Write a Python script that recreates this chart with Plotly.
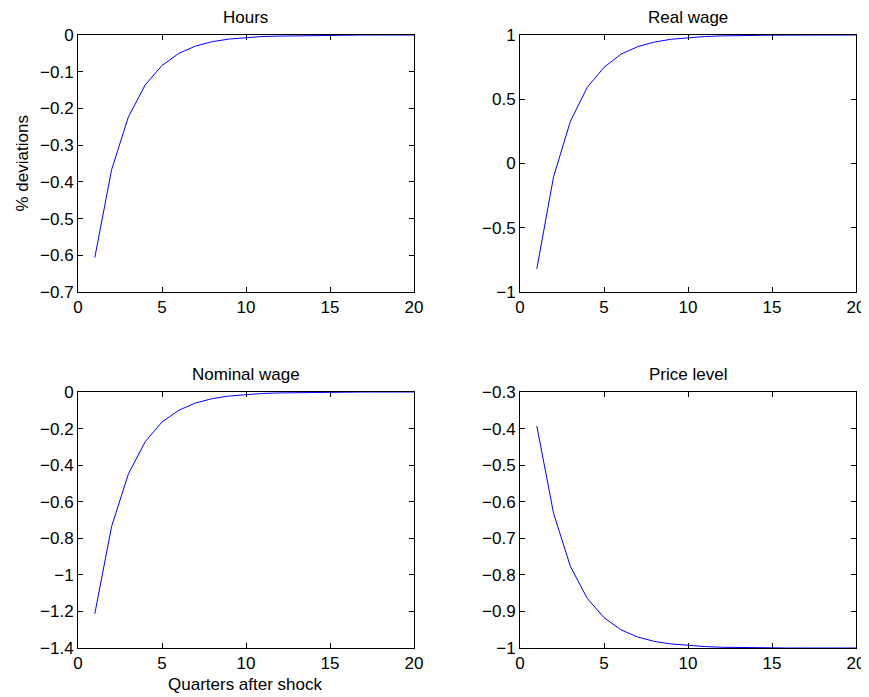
import plotly.graph_objects as go

quarters = list(range(1, 21))
hours = [-0.606, -0.367, -0.223, -0.136, -0.083, -0.050, -0.030, -0.018, -0.011, -0.007,
         -0.004, -0.003, -0.002, -0.001, -0.001, 0.0, 0.0, 0.0, 0.0, 0.0]
real_wage = [-0.820, -0.102, 0.328, 0.592, 0.748, 0.850, 0.909, 0.945, 0.967, 0.980,
             0.988, 0.993, 0.996, 0.998, 0.999, 0.999, 1.0, 1.0, 1.0, 1.0]
nominal_wage = [-1.213, -0.735, -0.448, -0.272, -0.164, -0.100, -0.060, -0.036, -0.022, -0.013,
                -0.008, -0.005, -0.003, -0.002, -0.001, -0.001, 0.0, 0.0, 0.0, 0.0]
price_level = [-0.393, -0.632, -0.777, -0.864, -0.917, -0.950, -0.970, -0.982, -0.989, -0.993,
               -0.996, -0.998, -0.999, -0.999, -1.0, -1.0, -1.0, -1.0, -1.0, -1.0]

titles = ["Hours", "Real wage", "Nominal wage", "Price level"]
x_ticks = [0, 5, 10, 15, 20]
x_ticktext = ["0", "5", "10", "15", "20"]
y_ticks = [
    [-0.7, -0.6, -0.5, -0.4, -0.3, -0.2, -0.1, 0],
    [-1, -0.5, 0, 0.5, 1],
    [-1.4, -1.2, -1, -0.8, -0.6, -0.4, -0.2, 0],
    [-1, -0.9, -0.8, -0.7, -0.6, -0.5, -0.4, -0.3],
]
y_ticktext = [
    ["\u22120.7", "\u22120.6", "\u22120.5", "\u22120.4", "\u22120.3", "\u22120.2", "\u22120.1", "0"],
    ["\u22121", "\u22120.5", "0", "0.5", "1"],
    ["\u22121.4", "\u22121.2", "\u22121", "\u22120.8", "\u22120.6", "\u22120.4", "\u22120.2", "0"],
    ["\u22121", "\u22120.9", "\u22120.8", "\u22120.7", "\u22120.6", "\u22120.5", "\u22120.4", "\u22120.3"],
]
series = [hours, real_wage, nominal_wage, price_level]

# page body has an 8px margin, so the figure is drawn 8px in from the top-left
OFF = 8
W, H = 869, 697 - OFF
FONT = "Liberation Sans, Arial, Helvetica, sans-serif"
FS = 17


def px(x):
    return (x - OFF) / W


def py(y):
    return 1 - (y - OFF) / H


# pixel boxes in window coordinates (left, right, top, bottom)
boxes = [(78, 414, 35, 292), (520, 856, 35, 292), (78, 414, 392, 648), (520, 856, 392, 648)]

fig = go.Figure()
layout = dict(
    width=W, height=H, margin=dict(l=0, r=0, t=0, b=0, autoexpand=False),
    paper_bgcolor="white", plot_bgcolor="white", showlegend=False,
    font=dict(family=FONT, size=FS, color="black"),
    annotations=[],
)

for i in range(4):
    sfx = "" if i == 0 else str(i + 1)
    l, r, t, b = boxes[i]
    fig.add_trace(go.Scatter(
        x=quarters, y=series[i], mode="lines",
        line=dict(color="rgb(0,0,255)", width=1),
        xaxis="x" + sfx, yaxis="y" + sfx, hoverinfo="skip",
    ))
    yt = y_ticks[i]
    common = dict(
        showline=True, linecolor="black", linewidth=1, mirror="ticks",
        ticks="inside", ticklen=5, tickwidth=1, tickcolor="black",
        showgrid=False, zeroline=False, automargin=False,
        tickfont=dict(family=FONT, size=FS, color="black"),
    )
    layout["xaxis" + sfx] = dict(
        domain=[px(l), px(r)], anchor="y" + sfx, range=[0, 20],
        tickmode="array", tickvals=x_ticks, ticktext=x_ticktext, **common,
    )
    layout["yaxis" + sfx] = dict(
        domain=[py(b), py(t)], anchor="x" + sfx, range=[yt[0], yt[-1]],
        tickmode="array", tickvals=yt, ticktext=y_ticktext[i], **common,
    )
    layout["annotations"].append(dict(
        text=titles[i], xref="paper", yref="paper",
        x=px((l + r) / 2), y=py(t - 17.5),
        xanchor="center", yanchor="middle", showarrow=False,
        font=dict(family=FONT, size=FS, color="black"),
    ))

layout["annotations"].append(dict(
    text="% deviations", xref="paper", yref="paper",
    x=px(22), y=py(163.5), textangle=-90,
    xanchor="center", yanchor="middle", showarrow=False,
    font=dict(family=FONT, size=FS, color="black"),
))
layout["annotations"].append(dict(
    text="Quarters after shock", xref="paper", yref="paper",
    x=px(246), y=py(684),
    xanchor="center", yanchor="middle", showarrow=False,
    font=dict(family=FONT, size=FS, color="black"),
))

fig.update_layout(**layout)
fig.write_html("out.html")
